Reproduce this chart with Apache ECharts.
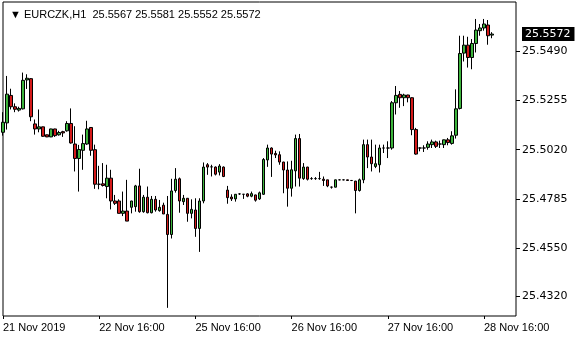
<!DOCTYPE html>
<html><head><meta charset="utf-8">
<script src="https://cdn.jsdelivr.net/npm/echarts@6/dist/echarts.min.js"></script>
<style>html,body{margin:0;padding:0;background:#fff}#c{width:580px;height:340px}</style>
</head><body><div id="c"></div>
<script>
const symbol = 'EURCZK,H1';
const opens = [25.5103,25.5148,25.5279,25.5225,25.5209,25.5215,25.5353,25.5359,25.5143,25.5119,
25.5129,25.5091,25.5081,25.5119,25.5091,25.5106,25.5110,25.5145,25.5047,25.4978,
25.5017,25.5047,25.5126,25.5020,25.4855,25.4857,25.4844,25.4884,25.4775,25.4775,
25.4716,25.4727,25.4745,25.4748,25.4847,25.4724,25.4793,25.4719,25.4783,25.4729,
25.4755,25.4711,25.4615,25.4825,25.4881,25.4772,25.4788,25.4716,25.4732,25.4644,
25.4775,25.4948,25.4938,25.4937,25.4913,25.4937,25.4827,25.4794,25.4785,25.4809,
25.4807,25.4809,25.4798,25.4804,25.4785,25.4807,25.4971,25.5028,25.5002,25.4996,
25.4961,25.4923,25.4836,25.4919,25.5073,25.4882,25.4937,25.4882,25.4882,25.4882,
25.4879,25.4876,25.4841,25.4841,25.4876,25.4876,25.4876,25.4873,25.4870,25.4825,
25.4876,25.5044,25.4985,25.4940,25.4948,25.5028,25.5028,25.5028,25.5244,25.5284,
25.5268,25.5281,25.5268,25.5116,25.5028,25.5028,25.5031,25.5044,25.5057,25.5047,
25.5044,25.5067,25.5050,25.5089,25.5217,25.5481,25.5519,25.5460,25.5527,25.5588,
25.5601,25.5615,25.5567];
const closes = [25.5151,25.5285,25.5225,25.5213,25.5217,25.5351,25.5361,25.5177,25.5119,25.5129,
25.5084,25.5081,25.5119,25.5087,25.5102,25.5100,25.5145,25.5052,25.4978,25.5021,
25.5049,25.5119,25.5017,25.4855,25.4855,25.4849,25.4884,25.4775,25.4764,25.4716,
25.4727,25.4679,25.4775,25.4847,25.4724,25.4793,25.4719,25.4783,25.4732,25.4745,
25.4713,25.4615,25.4823,25.4879,25.4775,25.4788,25.4716,25.4735,25.4644,25.4775,
25.4937,25.4937,25.4938,25.4903,25.4942,25.4892,25.4791,25.4785,25.4807,25.4809,
25.4807,25.4798,25.4810,25.4779,25.4814,25.4973,25.5028,25.4999,25.4995,25.4961,
25.4923,25.4836,25.4924,25.5073,25.4884,25.4937,25.4879,25.4882,25.4882,25.4882,
25.4873,25.4847,25.4841,25.4876,25.4876,25.4876,25.4873,25.4873,25.4825,25.4876,
25.5044,25.4985,25.4953,25.4953,25.5028,25.5028,25.5028,25.5244,25.5279,25.5268,
25.5281,25.5268,25.5116,25.4999,25.5028,25.5028,25.5047,25.5057,25.5036,25.5047,
25.5067,25.5054,25.5086,25.5215,25.5479,25.5519,25.5460,25.5527,25.5591,25.5601,
25.5620,25.5564,25.5572];
const lows = [25.5087,25.5116,25.5212,25.5199,25.5202,25.5212,25.5310,25.5156,25.5092,25.5103,
25.5081,25.5080,25.5080,25.5081,25.5087,25.5081,25.5106,25.5049,25.4916,25.4820,
25.4924,25.5043,25.4991,25.4833,25.4831,25.4844,25.4788,25.4735,25.4756,25.4716,
25.4703,25.4679,25.4716,25.4724,25.4719,25.4719,25.4716,25.4716,25.4724,25.4724,
25.4713,25.4265,25.4596,25.4815,25.4719,25.4756,25.4676,25.4692,25.4604,25.4532,
25.4764,25.4900,25.4892,25.4897,25.4897,25.4889,25.4762,25.4775,25.4772,25.4804,
25.4785,25.4793,25.4793,25.4772,25.4780,25.4804,25.4938,25.4890,25.4980,25.4948,
25.4812,25.4748,25.4796,25.4844,25.4844,25.4876,25.4873,25.4876,25.4876,25.4876,
25.4847,25.4841,25.4834,25.4840,25.4874,25.4874,25.4872,25.4870,25.4716,25.4820,
25.4860,25.4932,25.4916,25.4932,25.4911,25.5004,25.4980,25.5020,25.5188,25.5220,
25.5228,25.5246,25.5089,25.4996,25.5012,25.5009,25.5020,25.5028,25.5028,25.5028,
25.5028,25.5041,25.5044,25.5073,25.5212,25.5441,25.5412,25.5404,25.5484,25.5564,
25.5588,25.5521,25.5552];
const highs = [25.5199,25.5372,25.5311,25.5241,25.5225,25.5388,25.5380,25.5362,25.5164,25.5212,
25.5130,25.5092,25.5120,25.5120,25.5110,25.5110,25.5156,25.5217,25.5132,25.5043,
25.5092,25.5158,25.5127,25.5044,25.4943,25.4956,25.4948,25.4924,25.4804,25.4783,
25.4820,25.4876,25.4776,25.4852,25.4929,25.4804,25.4844,25.4799,25.4799,25.4780,
25.4767,25.4799,25.4881,25.4932,25.4887,25.4804,25.4789,25.4783,25.4788,25.4788,
25.4959,25.4956,25.4948,25.4940,25.4951,25.4940,25.4847,25.4807,25.4808,25.4812,
25.4808,25.4812,25.4820,25.4805,25.4820,25.4980,25.5044,25.5031,25.5015,25.5012,
25.4962,25.4964,25.4967,25.5092,25.5095,25.4956,25.4938,25.4889,25.4889,25.4914,
25.4892,25.4876,25.4844,25.4877,25.4877,25.4877,25.4877,25.4875,25.4871,25.4882,
25.5068,25.5068,25.5068,25.5044,25.5044,25.5044,25.5060,25.5252,25.5324,25.5300,
25.5287,25.5282,25.5270,25.5124,25.5031,25.5041,25.5060,25.5068,25.5063,25.5063,
25.5068,25.5076,25.5108,25.5308,25.5564,25.5564,25.5559,25.5548,25.5644,25.5620,
25.5644,25.5639,25.5581];
const xTickLabels = ['21 Nov 2019','22 Nov 16:00','25 Nov 16:00','26 Nov 16:00','27 Nov 16:00','28 Nov 16:00'];
const xTickIndex = [0,24,48,72,96,120];
const yTickValues = [25.5490,25.5255,25.5020,25.4785,25.4550,25.4320];
const totalSlots = 129;

const categories = [];
for (let i = 0; i < totalSlots; i++) {
  const t = xTickIndex.indexOf(i);
  categories.push(t >= 0 ? xTickLabels[t] : 'bar' + i);
}
const ohlc = opens.map((o, i) => [o, closes[i], lows[i], highs[i]]);
const n = opens.length;
const lastClose = closes[n - 1];
const FONT = 'Liberation Sans';
const YFONT = 'DejaVu Sans';
const header = '\u25BC ' + symbol + '  ' + opens[n-1].toFixed(4) + ' ' + highs[n-1].toFixed(4) + ' ' + lows[n-1].toFixed(4) + ' ' + closes[n-1].toFixed(4);

const chart = echarts.init(document.getElementById('c'), null, {renderer: 'canvas'});
chart.setOption({
  animation: false,
  backgroundColor: '#fff',
  textStyle: {fontFamily: FONT},
  title: {
    text: header, left: 5, top: 4,
    textStyle: {fontFamily: FONT, fontSize: 11, fontWeight: 'normal', color: '#000'}
  },
  grid: {left: 2, right: 64, top: 2, bottom: 24, show: true, borderColor: '#000', borderWidth: 1, backgroundColor: '#fff'},
  xAxis: {
    type: 'category', data: categories, boundaryGap: false,
    axisLine: {show: false},
    axisTick: {show: true, length: 3, interval: (i) => xTickIndex.includes(i), lineStyle: {color: '#000'}},
    axisLabel: {interval: (i) => xTickIndex.includes(i), align: 'left', margin: 6, color: '#000', fontSize: 11, fontFamily: FONT},
    splitLine: {show: false}
  },
  yAxis: {
    type: 'value', position: 'right', min: 25.4226, max: 25.5725, scale: true,
    axisLine: {show: false},
    splitLine: {show: false},
    axisTick: {show: true, length: 4, customValues: yTickValues, lineStyle: {color: '#000'}},
    axisLabel: {
      customValues: yTickValues.concat([lastClose]), margin: 6, color: '#000', fontSize: 11, fontFamily: YFONT,
      formatter: (v) => Math.abs(v - lastClose) < 1e-9 ? '{cur|' + v.toFixed(4) + '}' : v.toFixed(4),
      rich: {cur: {color: '#fff', backgroundColor: '#000', padding: [2, 4, 1, 3], fontSize: 11, fontFamily: YFONT}}
    }
  },
  series: [{
    type: 'candlestick', data: ohlc, barWidth: 3,
    itemStyle: {color: '#3cb43c', color0: '#d41a1a', borderColor: '#000', borderColor0: '#000', borderColorDoji: '#000', borderWidth: 1},
    emphasis: {disabled: true}
  }]
});
</script></body></html>
